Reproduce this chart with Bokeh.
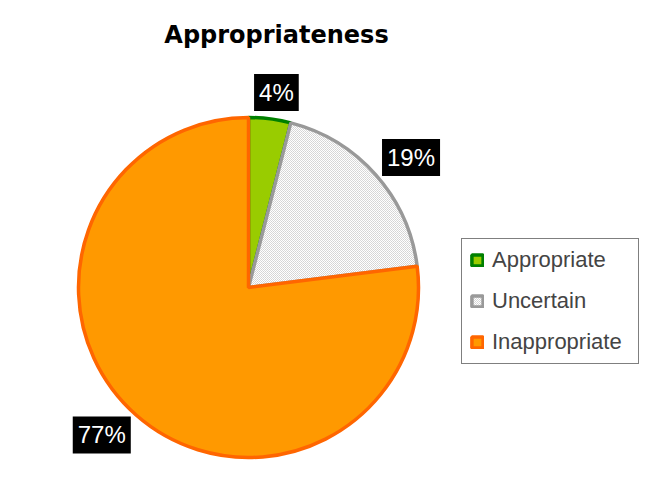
import numpy as np
from bokeh.plotting import figure
from bokeh.models import Range1d, Label, Legend, LegendItem, ColumnDataSource
from bokeh.embed import file_html
from bokeh.resources import INLINE

title = "Appropriateness"
categories = ["Appropriate", "Uncertain", "Inappropriate"]
shares = [4, 19, 77]
pct_labels = ["4%", "19%", "77%"]
fill_colors = ["#99cc00", "#ffffff", "#ff9900"]
line_colors = ["#008000", "#999999", "#ff6600"]

W, H = 640, 494
p = figure(width=W, height=H, x_range=Range1d(0, 640), y_range=Range1d(8, 502),
           output_backend="svg", toolbar_location=None, min_border=0)
p.axis.visible = False
p.grid.visible = False
p.outline_line_color = None
p.background_fill_color = "white"
p.border_fill_color = "white"

cx, cy, R = 248, 215, 170
frac = np.array(shares, dtype=float) / sum(shares)
cum = np.concatenate([[0.0], np.cumsum(frac)])
starts = np.pi / 2 - 2 * np.pi * cum[:-1]
ends = np.pi / 2 - 2 * np.pi * cum[1:]

renderers = []
for i, cat in enumerate(categories):
    src = ColumnDataSource(dict(x=[cx], y=[cy], s=[starts[i]], e=[ends[i]]))
    kw = {}
    if cat == "Uncertain":
        kw = dict(hatch_pattern="diagonal_cross", hatch_scale=2, hatch_color="#d4d4d4", hatch_weight=1)
    r = p.wedge(x="x", y="y", radius=R, start_angle="s", end_angle="e", direction="clock",
                source=src, fill_color=fill_colors[i], line_color=line_colors[i], line_width=3.5, **kw)
    renderers.append(r)

# percentage labels, placed just outside each slice's middle
for i, lab in enumerate(pct_labels):
    mid = (starts[i] + ends[i]) / 2
    c, s = np.cos(mid), np.sin(mid)
    rr = R + 8
    px, py = cx + rr * c, cy + rr * s
    ax = float(0.5 - 0.5 * np.sign(c) * min(1.0, abs(c) / 0.5))
    ay = float(0.5 + 0.5 * s)
    p.add_layout(Label(x=px, y=py, text=lab, anchor=(ax, ay),
                       text_font="Liberation Sans", text_font_size="24px", text_color="white",
                       background_fill_color="black", padding=5))

p.add_layout(Label(x=276, y=502 - 34, text=title, text_align="center", text_baseline="middle",
                   text_font="DejaVu Sans", text_font_style="bold", text_font_size="24px",
                   text_color="black"))

legend = Legend(items=[LegendItem(label=c, renderers=[r]) for c, r in zip(categories, renderers)],
                location=(461, 130), border_line_color="black", border_line_width=1,
                label_text_font="Liberation Sans", label_text_font_size="22px",
                glyph_width=14, glyph_height=14, label_height=24, label_standoff=8,
                label_width=138, spacing=15, padding=8, margin=0, background_fill_color="white",
                background_fill_alpha=1)
p.add_layout(legend)

open("out.html", "w").write(file_html(p, INLINE))
